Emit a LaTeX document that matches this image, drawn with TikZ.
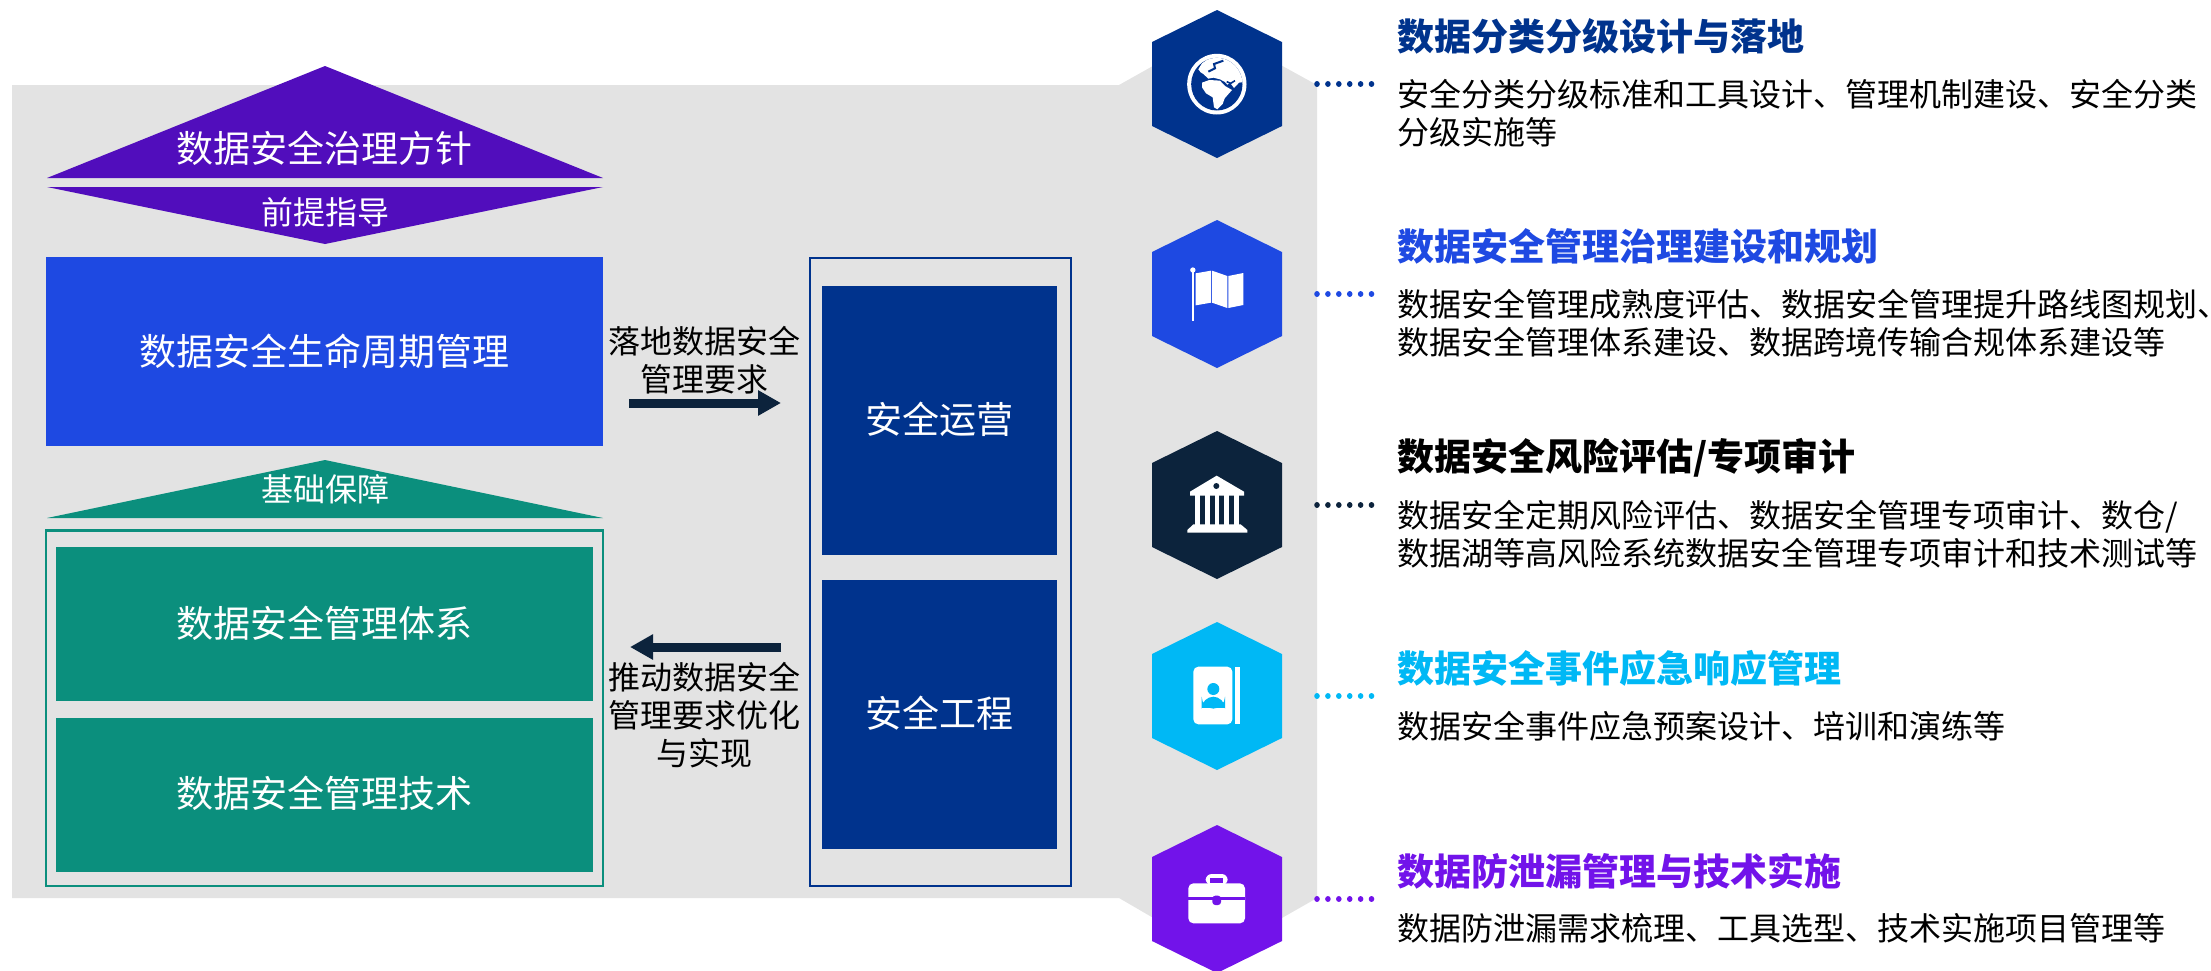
\documentclass[tikz,border=0pt]{standalone}
\usepackage{fontspec}
\setmainfont{Noto Sans CJK SC}
\usetikzlibrary{arrows.meta}
\definecolor{cnavy}{HTML}{00338D}
\definecolor{cblue}{HTML}{1E49E2}
\definecolor{cdark}{HTML}{0C233C}
\definecolor{ccyan}{HTML}{00B8F5}
\definecolor{cviolet}{HTML}{7213EA}
\definecolor{cpurple}{HTML}{510DBC}
\definecolor{cgreen}{HTML}{0B8F7D}
\definecolor{cgray}{HTML}{E3E3E3}
\newcommand\fs[1]{\fontsize{#1pt}{19pt}\selectfont}
\newcommand\lst{\rule{0pt}{.88em}}
\tikzset{
  ltxt/.style={inner sep=0pt,text height=16.28pt,text depth=2.22pt,text=white,font=\fs{18.5}},
  stxt/.style={inner sep=0pt,text height=14.08pt,text depth=1.92pt,text=white,font=\fs{16}},
  solid box/.style={inner sep=0pt,outer sep=0pt,draw=none},
  heading/.style={inner sep=0pt,anchor=west,text height=16.28pt,text depth=2.22pt,font=\fs{18.5}\bfseries},
  para/.style={inner sep=0pt,anchor=north west,align=left,font=\fs{16},text=black},
  midlabel/.style={inner sep=0pt,anchor=north,align=center,font=\fs{16},text=black},
  blockarrow/.style={draw=cdark,line width=4.5pt,-{Triangle[length=11.5pt,width=12pt]}},
  dotline/.style={line width=2.8pt,line cap=round,dash pattern=on 0.01pt off 5.44pt},
}
\newcommand\hexshape[3]{\fill[#3] (1217,#2) -- (1282,{#2+32}) -- (1282,{#2+116}) -- (1217,{#2+148}) -- (1152,{#2+116}) -- (1152,{#2+32}) -- cycle; \node[inner sep=0pt,outer sep=0pt] (#1) at (1217,{#2+74}) {};}
\begin{document}
\begin{tikzpicture}[x=0.5pt,y=-0.5pt]
\useasboundingbox (0,0) rectangle (2211,970);
% background
\fill[cgray] (12,85) -- (1119,85) -- (1217,30) -- (1317,85) -- (1317,898) -- (1217,955) -- (1119,898) -- (12,898) -- cycle;
% top triangles
\fill[cpurple] (325,66) -- (603,178) -- (47,178) -- cycle;
\fill[cpurple] (47,187) -- (603,187) -- (325,244) -- cycle;
\node[ltxt] (gov) at (324,148) {数据安全治理方针};
\node[stxt] (pre) at (325,212) {前提指导};
% lifecycle
\node[solid box,fill=cblue,minimum width=278.5pt,minimum height=94.5pt] (lifebox) at (324.5,351.5) {};
\node[ltxt] (life) at (lifebox.center) {数据安全生命周期管理};
% base
\fill[cgreen] (325,460) -- (603,518) -- (47,518) -- cycle;
\node[stxt] (base) at (325,489) {基础保障};
\draw[cgreen,line width=1.15pt] (46.2,530.5) rectangle (603.3,886);
\node[solid box,fill=cgreen,minimum width=268.5pt,minimum height=77pt] (sysbox) at (324.5,624) {};
\node[ltxt] (sys) at (324.5,623) {数据安全管理体系};
\node[solid box,fill=cgreen,minimum width=268.5pt,minimum height=77pt] (techbox) at (324.5,795) {};
\node[ltxt] (tech) at (324.5,793) {数据安全管理技术};
% ops
\draw[cnavy,line width=1.15pt] (810.2,258) rectangle (1071.2,886);
\node[solid box,fill=cnavy,minimum width=117.5pt,minimum height=134.5pt] (opsbox) at (939.5,420.5) {};
\node[ltxt] (ops) at (939.5,419) {安全运营};
\node[solid box,fill=cnavy,minimum width=117.5pt,minimum height=134.5pt] (engbox) at (939.5,714.5) {};
\node[ltxt] (eng) at (939.5,713) {安全工程};
% arrows
\node[midlabel] (lab1) at (704.5,325) {\lst 落地数据安全\\\lst 管理要求};
\coordinate (a1s) at (629,403);
\coordinate (a1e) at (781,403);
\draw[blockarrow] (a1s) -- (a1e);
\coordinate (a2s) at (781,647);
\coordinate (a2e) at (630,647);
\draw[blockarrow] (a2s) -- (a2e);
\node[midlabel] (lab2) at (704.5,661) {\lst 推动数据安全\\\lst 管理要求优化\\\lst 与实现};
% hexagons
\hexshape{hexa}{10}{cnavy}
\hexshape{hexb}{220}{cblue}
\hexshape{hexc}{431}{cdark}
\hexshape{hexd}{622}{ccyan}
\hexshape{hexe}{825}{cviolet}
% dotted leaders
\foreach \n/\y/\c in {a/84/cnavy,b/294/cblue,c/505/cdark,d/696/ccyan,e/899/cviolet}{
  \coordinate (ds\n) at (1317,\y);
  \coordinate (de\n) at (1372,\y);
  \draw[dotline,\c] (ds\n) -- (de\n);
}
% globe
\begin{scope}[shift={(1170,40)},scale=0.33333]
  \fill[white] (140.5,132.5) ellipse (89 and 91);
  \fill[cnavy] (140.5,132.5) ellipse (77 and 79);
  \begin{scope}
    \clip (140.5,132.5) ellipse (77 and 79);
    \fill[white] (96,70) -- (125,50) -- (160,45) -- (205,58) -- (230,100) -- (230,125) -- (207,128) -- (192,144) -- (180,128) -- (172,134) -- (165,126) -- (150,118) -- (130,113) -- (115,116) -- (100,102) -- (92,97) -- (85,88) -- cycle;
    \fill[white] (96,128) -- (118,120) -- (150,122) -- (165,138) -- (186,150) -- (164,175) -- (158,192) -- (142,208) -- (132,202) -- (128,172) -- (108,160) -- (96,142) -- cycle;
    \draw[cnavy,line width=1pt] (115,95) -- (135,85) -- (132,72) -- (160,62);
    \draw[cnavy,line width=.8pt] (170,125) -- (182,130) -- (195,122);
  \end{scope}
\end{scope}
% flag
\begin{scope}[shift={(1170,250)},scale=0.33333,white]
  \fill (66.5,60) rectangle (72,213);
  \fill (68.5,60) circle (8);
  \fill (77,70) -- (123,62) -- (123,158) -- (77,166) -- cycle;
  \fill (126,62) -- (172,78) -- (172,174) -- (126,158) -- cycle;
  \fill (175,78) -- (220,69) -- (220,165) -- (175,174) -- cycle;
\end{scope}
% temple
\begin{scope}[shift={(1170,460)},scale=0.33333,white]
  \fill (140,47) -- (222,95) -- (222,107) -- (60,107) -- (60,95) -- cycle;
  \fill[cdark] (139,78) circle (9);
  \foreach \x in {75,105,134,163,192}{\fill (\x,105) rectangle ({\x+14},195);}
  \fill (70,193) -- (212,193) -- (232,210) -- (232,218) -- (52,218) -- (52,210) -- cycle;
\end{scope}
% contact book
\begin{scope}[shift={(1170,650)},scale=0.33333,white]
  \fill[rounded corners=2.5pt] (70,50) -- (187,50) -- (187,223) -- (70,223) -- cycle;
  \fill (195,50) rectangle (209,223);
  \fill[ccyan] (130,117) circle (18);
  \fill[ccyan,rounded corners=6pt] (95,176) -- (95,140) -- (165,140) -- (165,176) -- cycle;
  \fill[ccyan] (95,160) rectangle (165,175);
\end{scope}
% briefcase
\begin{scope}[shift={(1170,860)},scale=0.33333,white]
  \fill[rounded corners=3pt] (107,75) -- (107,42) -- (173,42) -- (173,75) -- cycle;
  \fill[cviolet] (120,55) rectangle (160,70);
  \fill[rounded corners=2.5pt] (55,70) -- (225,70) -- (225,190) -- (55,190) -- cycle;
  \fill[cviolet] (55,112) rectangle (225,120);
  \fill[cviolet,rounded corners=1.5pt] (127,107) -- (153,107) -- (153,135) -- (127,135) -- cycle;
\end{scope}
% right-hand text
\node[heading,text=cnavy] (t1) at (1397,36) {数据分类分级设计与落地};
\node[para] (p1) at (1397,78) {\lst 安全分类分级标准和工具设计、管理机制建设、安全分类\\\lst 分级实施等};
\node[heading,text=cblue] (t2) at (1397,246) {数据安全管理治理建设和规划};
\node[para] (p2) at (1397,288) {\lst 数据安全管理成熟度评估、数据安全管理提升路线图规划\makebox[.4em][l]{、}\\\lst 数据安全管理体系建设、数据跨境传输合规体系建设等};
\node[heading,text=black] (t3) at (1397,456) {数据安全风险评估/专项审计};
\node[para] (p3) at (1397,499) {\lst 数据安全定期风险评估、数据安全管理专项审计、数仓/\\\lst 数据湖等高风险系统数据安全管理专项审计和技术测试等};
\node[heading,text=ccyan] (t4) at (1397,668) {数据安全事件应急响应管理};
\node[para] (p4) at (1397,710) {\lst 数据安全事件应急预案设计、培训和演练等};
\node[heading,text=cviolet] (t5) at (1397,871) {数据防泄漏管理与技术实施};
\node[para] (p5) at (1397,912) {\lst 数据防泄漏需求梳理、工具选型、技术实施项目管理等};
\end{tikzpicture}
\end{document}
